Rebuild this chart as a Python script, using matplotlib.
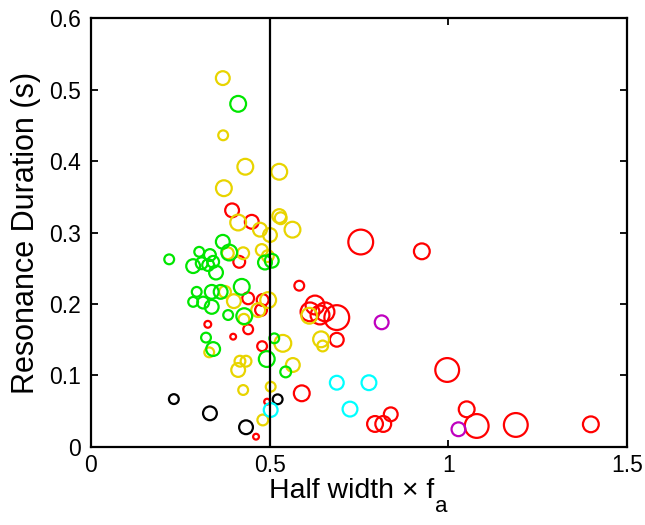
import numpy as np
import matplotlib
matplotlib.use('Agg')
import matplotlib.pyplot as plt

plt.rcParams['font.family'] = ['Liberation Sans', 'DejaVu Sans']

# data: half width x f_a, resonance duration (s), marker size (px diameter)
green_x = [0.219, 0.303, 0.286, 0.310, 0.333, 0.328, 0.342, 0.350, 0.369, 0.387,
           0.487, 0.506, 0.296, 0.286, 0.314, 0.338, 0.338, 0.363, 0.422, 0.384,
           0.429, 0.322, 0.342, 0.513, 0.492, 0.545, 0.412]
green_y = [0.2625, 0.273, 0.253, 0.257, 0.2685, 0.2545, 0.259, 0.244, 0.287, 0.272,
           0.258, 0.2605, 0.217, 0.203, 0.202, 0.196, 0.217, 0.217, 0.224, 0.1846,
           0.183, 0.153, 0.137, 0.152, 0.123, 0.105, 0.480]
green_d = [11, 11, 15, 13, 13, 13, 13, 15, 15, 17,
           15, 15, 11, 11, 13, 15, 15, 15, 17, 11,
           17, 11, 15, 11, 17, 12, 17]

yellow_x = [0.369, 0.370, 0.432, 0.527, 0.372, 0.412, 0.473, 0.501, 0.527, 0.531,
            0.564, 0.426, 0.383, 0.478, 0.495, 0.400, 0.375, 0.496, 0.468, 0.428,
            0.331, 0.537, 0.417, 0.434, 0.412, 0.565, 0.503, 0.426, 0.481, 0.644,
            0.6485, 0.611]
yellow_y = [0.516, 0.436, 0.392, 0.385, 0.362, 0.314, 0.304, 0.2965, 0.323, 0.320,
            0.304, 0.271, 0.271, 0.2755, 0.267, 0.204, 0.217, 0.2055, 0.1915, 0.1786,
            0.1324, 0.145, 0.120, 0.120, 0.1077, 0.1147, 0.0843, 0.0797, 0.0378, 0.1506,
            0.1413, 0.1836]
yellow_d = [15, 11, 17, 17, 17, 17, 15, 15, 15, 13,
            17, 13, 13, 13, 13, 15, 13, 17, 15, 12,
            11, 18, 12, 12, 15, 15, 11, 11, 12, 17,
            12, 17]

red_x = [0.395, 0.450, 0.415, 0.440, 0.4805, 0.476, 0.327, 0.398, 0.440, 0.479,
         0.583, 0.590, 0.493, 0.462, 0.613, 0.627, 0.641, 0.655, 0.688, 0.688,
         0.755, 0.926, 0.997, 0.795, 0.818, 0.839, 1.0515, 1.0795, 1.189, 1.399]
red_y = [0.331, 0.315, 0.259, 0.208, 0.2056, 0.1916, 0.1716, 0.1543, 0.1646, 0.141,
         0.2256, 0.0751, 0.0634, 0.0144, 0.189, 0.1986, 0.1846, 0.189, 0.181, 0.150,
         0.2867, 0.2737, 0.1077, 0.0322, 0.0322, 0.0457, 0.0527, 0.0294, 0.0308, 0.0317]
red_d = [15, 15, 13, 13, 13, 13, 8, 7, 11, 11,
         11, 17, 7, 7, 20, 20, 20, 20, 26, 15,
         26, 17, 25, 17, 17, 15, 17, 25, 25, 17]

black_x = [0.232, 0.333, 0.434, 0.5225]
black_y = [0.067, 0.0471, 0.0276, 0.0667]
black_d = [11, 15, 15, 11]

cyan_x = [0.503, 0.688, 0.778, 0.725]
cyan_y = [0.0517, 0.0899, 0.0899, 0.053]
cyan_d = [15, 15, 16, 16]

magenta_x = [0.8136, 1.0285]
magenta_y = [0.1744, 0.0248]
magenta_d = [15, 15]

groups = [
    (red_x, red_y, red_d, '#ff0000'),
    (yellow_x, yellow_y, yellow_d, '#e8d400'),
    (green_x, green_y, green_d, '#00e600'),
    (black_x, black_y, black_d, '#000000'),
    (cyan_x, cyan_y, cyan_d, '#00ffff'),
    (magenta_x, magenta_y, magenta_d, '#bf00bf'),
]

fig = plt.figure(figsize=(6.45, 5.25), dpi=100)
ax = fig.add_axes([0.141, 0.1486, 0.831, 0.817])

for xs, ys, ds, col in groups:
    sizes = [((d - 1.2) * 0.72) ** 2 for d in ds]
    ax.scatter(xs, ys, s=sizes, facecolors='none', edgecolors=col, linewidths=1.6)

ax.axvline(0.5, color='black', linewidth=1.6)

ax.set_xlim(0, 1.5)
ax.set_ylim(0, 0.6)
ax.set_xticks([0, 0.5, 1, 1.5])
ax.set_xticklabels(['0', '0.5', '1', '1.5'])
ax.set_yticks([0, 0.1, 0.2, 0.3, 0.4, 0.5, 0.6])
ax.set_yticklabels(['0', '0.1', '0.2', '0.3', '0.4', '0.5', '0.6'])
ax.tick_params(direction='in', length=5, width=1.3, top=True, right=True,
               labelsize=16.5, pad=7)
ax.tick_params(axis='x', pad=5)
for sp in ax.spines.values():
    sp.set_linewidth(1.6)

# x label with a dropped subscript, MATLAB style
fig.text(0.545, 0.064, 'Half width × f', fontsize=20.5, ha='center', va='center')
fig.text(0.675, 0.035, 'a', fontsize=16, ha='left', va='center')
ax.set_ylabel('Resonance Duration (s)', fontsize=22, labelpad=6)

fig.savefig('out.png', dpi=100)
